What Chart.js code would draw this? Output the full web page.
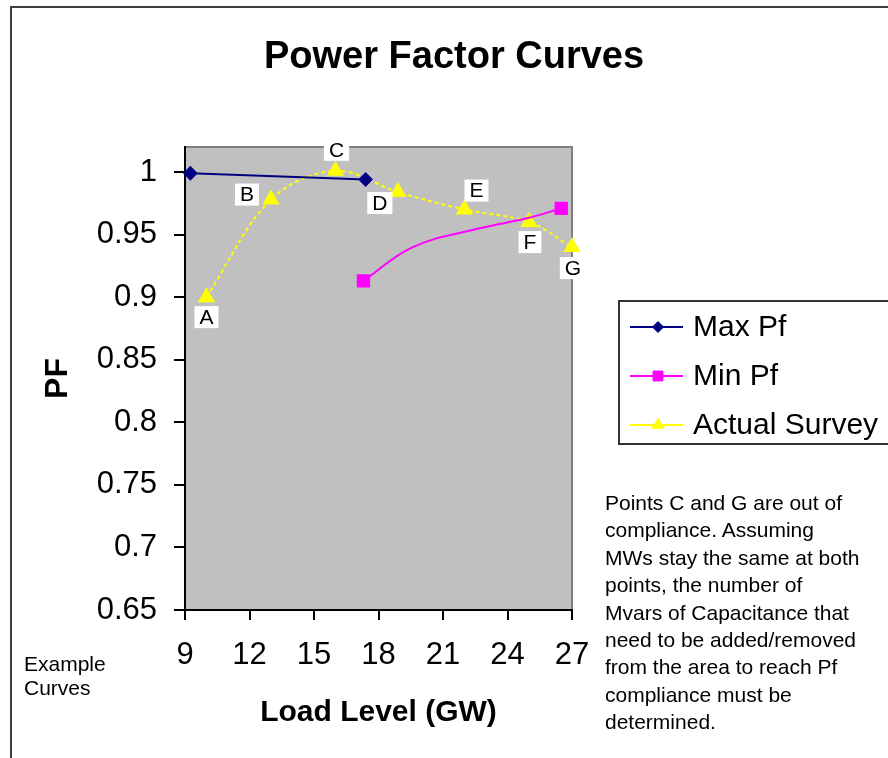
<!DOCTYPE html>
<html><head><meta charset="utf-8">
<script src="https://cdn.jsdelivr.net/npm/chart.js@4.4.0/dist/chart.umd.min.js"></script>
<style>
html,body{margin:0;padding:0;background:#fff;}
#wrap{position:relative;width:888px;height:758px;overflow:hidden;}
canvas{position:absolute;left:0;top:0;}
.txt{position:absolute;font-family:'Liberation Sans',Arial,sans-serif;font-size:21px;color:#000;white-space:pre;}
</style></head><body>
<div id="wrap"><canvas id="c" width="888" height="758"></canvas>
<div class="txt" id="ex" style="left:24px;top:652px;line-height:24px;"></div>
<div class="txt" id="note" style="left:605px;top:489px;line-height:27.4px;"></div>
</div>
<script>
// ---- data ----
const seriesNames = ['Max Pf', 'Min Pf', 'Actual Survey'];
const maxPfX = [9.25, 17.4];
const maxPfY = [0.999, 0.994];
const minPfX = [17.3, 19.6, 22.7, 24.9, 26.5];
const minPfY = [0.913, 0.940, 0.955, 0.963, 0.971];
const minPfMarked = [true, false, false, false, true];
const surveyX = [10, 13, 16, 18.9, 22, 25, 27];
const surveyY = [0.900, 0.978, 1.001, 0.984, 0.970, 0.960, 0.940];
const surveyLabels = ['A', 'B', 'C', 'D', 'E', 'F', 'G'];
const xTicks = [9, 12, 15, 18, 21, 24, 27];
const yTicks = [0.65, 0.7, 0.75, 0.8, 0.85, 0.9, 0.95, 1];
const titleText = 'Power Factor Curves';
const xTitle = 'Load Level (GW)';
const yTitle = 'PF';
const exampleLines = ['Example', 'Curves'];
const noteLines = ['Points C and G are out of', 'compliance. Assuming', 'MWs stay the same at both',
  'points, the number of', 'Mvars of Capacitance that', 'need to be added/removed',
  'from the area to reach Pf', 'compliance must be', 'determined.'];

// ---- styles ----
const FAM = "'Liberation Sans', Arial, sans-serif";
const labelOffsets = [[0, 20], [-24, -5], [1, -21], [-18, 11], [12, -19], [1, 20], [1, 21]];

document.getElementById('ex').textContent = exampleLines.join('\n');
document.getElementById('note').textContent = noteLines.join('\n');

const pts = (xs, ys) => xs.map((x, i) => ({x: x, y: ys[i]}));

const framePlugin = {
  id: 'frame',
  beforeDraw(chart) {
    const ctx = chart.ctx, a = chart.chartArea;
    ctx.save();
    ctx.fillStyle = '#fff';
    ctx.fillRect(0, 0, chart.width, chart.height);
    ctx.strokeStyle = '#404040';
    ctx.lineWidth = 2;
    ctx.beginPath();
    ctx.moveTo(11, chart.height + 2); ctx.lineTo(11, 7); ctx.lineTo(chart.width + 2, 7);
    ctx.stroke();
    ctx.fillStyle = '#C0C0C0';
    ctx.fillRect(a.left, a.top, a.right - a.left, a.bottom - a.top);
    ctx.strokeStyle = '#808080';
    ctx.beginPath();
    ctx.moveTo(a.left, a.top); ctx.lineTo(a.right, a.top); ctx.lineTo(a.right, a.bottom);
    ctx.stroke();
    ctx.restore();
  },
  afterDatasetsDraw(chart) {
    const ctx = chart.ctx;
    const meta = chart.getDatasetMeta(2);
    ctx.save();
    ctx.font = '21px ' + FAM;
    ctx.textAlign = 'center';
    ctx.textBaseline = 'middle';
    meta.data.forEach((p, i) => {
      const t = surveyLabels[i];
      const cx = p.x + labelOffsets[i][0], cy = p.y + labelOffsets[i][1];
      const w = ctx.measureText(t).width;
      ctx.fillStyle = '#fff';
      ctx.fillRect(cx - w / 2 - 5, cy - 11, w + 10, 22);
      ctx.fillStyle = '#000';
      ctx.fillText(t, cx, cy + 1);
    });
    ctx.restore();
  },
  afterDraw(chart) {
    const ctx = chart.ctx;
    ctx.save();
    ctx.strokeStyle = '#333';
    ctx.lineWidth = 2;
    ctx.strokeRect(619, 301, 290, 143);
    const rows = [327, 376, 425];
    const radii = [5.5, 7, 6.7];
    chart.data.datasets.forEach((ds, i) => {
      const y = rows[i];
      ctx.setLineDash([]);
      ctx.strokeStyle = ds.borderColor;
      ctx.lineWidth = 2;
      ctx.beginPath(); ctx.moveTo(630, y); ctx.lineTo(683, y); ctx.stroke();
      ctx.fillStyle = ds.pointBackgroundColor;
      ctx.strokeStyle = ds.pointBorderColor;
      ctx.lineWidth = 1;
      Chart.helpers.drawPoint(ctx, {pointStyle: ds.pointStyle, radius: radii[i], borderWidth: 1, rotation: 0}, 658, y);
      ctx.fillStyle = '#000';
      ctx.font = '30px ' + FAM;
      ctx.textAlign = 'left';
      ctx.textBaseline = 'middle';
      ctx.fillText(ds.label, 693, y + 1);
    });
    ctx.restore();
  }
};

Chart.defaults.font.family = FAM;
Chart.defaults.color = '#000';

new Chart(document.getElementById('c'), {
  type: 'line',
  data: {
    datasets: [
      {
        label: seriesNames[0], data: pts(maxPfX, maxPfY),
        borderColor: '#000080', borderWidth: 2, tension: 0,
        pointStyle: 'rectRot', pointRadius: 6,
        pointBackgroundColor: '#000080', pointBorderColor: '#000080', clip: false
      },
      {
        label: seriesNames[1], data: pts(minPfX, minPfY),
        borderColor: '#FF00FF', borderWidth: 2, tension: 0.4,
        pointStyle: 'rect', pointRadius: minPfMarked.map(m => m ? 8 : 0),
        pointBackgroundColor: '#FF00FF', pointBorderColor: '#FF00FF', clip: false
      },
      {
        label: seriesNames[2], data: pts(surveyX, surveyY),
        borderColor: '#FFFF00', borderWidth: 2, borderDash: [4, 3], tension: 0.35,
        pointStyle: 'triangle', pointRadius: 8,
        pointBackgroundColor: '#FFFF00', pointBorderColor: '#FFFF00', clip: false
      }
    ]
  },
  options: {
    responsive: false,
    devicePixelRatio: 1,
    animation: false,
    layout: {padding: {left: 20, right: 0, top: 0, bottom: 0}},
    plugins: {
      legend: {display: false},
      tooltip: {enabled: false},
      title: {
        display: true, text: titleText, color: '#000',
        font: {size: 38, weight: 'bold', family: FAM, lineHeight: 1.2},
        padding: {top: 35, bottom: 66.4}
      }
    },
    scales: {
      x: {
        type: 'linear', min: 9, max: 27,
        afterBuildTicks: s => { s.ticks = xTicks.map(v => ({value: v})); },
        ticks: {font: {size: 31}, color: '#000', padding: 17, maxRotation: 0, autoSkip: false},
        grid: {drawOnChartArea: false, drawTicks: true, tickLength: 10, color: '#000', lineWidth: 2},
        border: {display: true, color: '#000', width: 2},
        title: {display: true, text: xTitle, color: '#000', font: {size: 30, weight: 'bold'}, padding: 27},
        afterFit: s => { s.height = 148; }
      },
      y: {
        type: 'linear', min: 0.65, max: 1.02,
        afterBuildTicks: s => { s.ticks = yTicks.map(v => ({value: v})); },
        ticks: {font: {size: 31}, color: '#000', padding: 17, callback: v => String(+Number(v).toFixed(2))},
        grid: {drawOnChartArea: false, drawTicks: true, tickLength: 11, color: '#000', lineWidth: 2},
        border: {display: true, color: '#000', width: 2},
        title: {display: true, text: yTitle, color: '#000', font: {size: 32, weight: 'bold'}, padding: 19},
        afterFit: s => { s.width = 165; }
      },
      yR: {
        type: 'linear', position: 'right', display: true,
        grid: {display: false}, ticks: {display: false}, border: {display: false},
        afterFit: s => { s.width = 316; }
      }
    }
  },
  plugins: [framePlugin]
});
</script>
</body></html>
